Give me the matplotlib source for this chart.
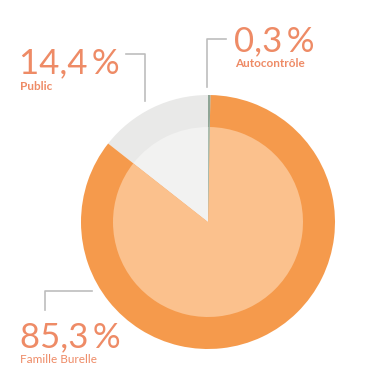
import matplotlib
matplotlib.use("Agg")
import matplotlib.pyplot as plt

labels = ["Public", "Famille Burelle", "Autocontrôle"]
values = [14.4, 85.3, 0.3]
value_texts = ["14,4\u2009%", "85,3\u2009%", "0,3\u2009%"]
outer_colors = ["#E9E9E8", "#F59A4C", "#8FA596"]
inner_colors = ["#F2F2F1", "#FBC18D", "#A9BCAE"]

W, H = 365, 386
fig = plt.figure(figsize=(W / 100, H / 100), dpi=100)
ax = fig.add_axes([0, 0, 1, 1])

def Y(y):
    return H - y

cx, cy = 208, Y(222)
R_out, R_in = 127, 95

ax.pie(values, colors=outer_colors, startangle=90, counterclock=True,
       radius=R_out, center=(cx, cy), wedgeprops=dict(linewidth=0))
ax.pie(values, colors=inner_colors, startangle=90, counterclock=True,
       radius=R_in, center=(cx, cy), wedgeprops=dict(linewidth=0))

ax.set_xlim(0, W)
ax.set_ylim(0, H)
ax.set_aspect("equal")
ax.axis("off")

txt = "#EE8B66"
line = "#BDBDBD"
big = dict(color=txt, fontsize=25, family=["Lato", "DejaVu Sans"], fontweight="normal")

# Public
ax.text(19, Y(73), value_texts[0], ha="left", va="baseline", **big)
ax.text(20, Y(90), labels[0], ha="left", va="baseline", color=txt,
        fontsize=8.5, family="Lato", fontweight="bold")
ax.plot([126, 145, 145], [Y(54), Y(54), Y(101)], color=line, lw=1.2)

# Autocontrôle
ax.text(234, Y(51), value_texts[2], ha="left", va="baseline", **big)
ax.text(235, Y(67), labels[2], ha="left", va="baseline", color=txt,
        fontsize=8.5, family="Lato", fontweight="bold")
ax.plot([226, 207, 207], [Y(39), Y(39), Y(87)], color=line, lw=1.2)

# Famille Burelle
ax.text(20, Y(347), value_texts[1], ha="left", va="baseline", **big)
ax.text(20, Y(363), labels[1], ha="left", va="baseline", color=txt,
        fontsize=8.5, family="Lato")
ax.plot([92, 45, 45], [Y(291), Y(291), Y(310)], color=line, lw=1.2)

fig.savefig("out.png", dpi=100)
